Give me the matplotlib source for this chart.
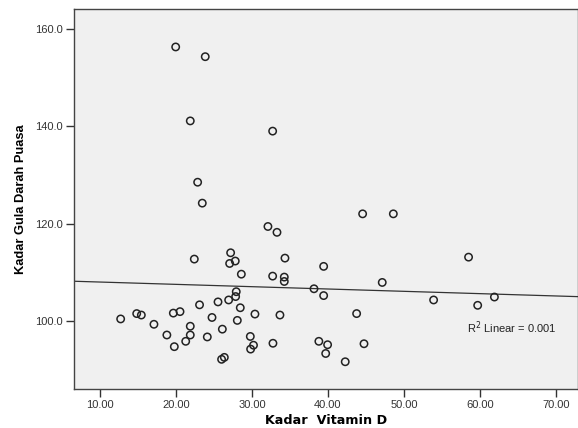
import matplotlib
matplotlib.use("Agg")
import matplotlib.pyplot as plt

# Values (Vitamin D vs fasting blood glucose)
vitamin_d = [
    19.96, 23.85, 21.88, 32.72, 22.85, 23.46,
    32.10, 33.29, 22.41, 27.19, 27.80, 27.06, 34.34, 28.60, 32.72, 34.25,
    34.25, 27.93, 27.85, 26.93, 25.53, 23.10, 28.46, 20.53, 19.65, 14.83,
    15.44, 30.39, 33.68, 24.74, 12.72, 28.07, 17.10, 21.88, 26.10, 18.80,
    21.88, 29.78, 24.12, 21.28, 32.76, 30.20, 19.78, 29.82, 26.36, 26.00,
    44.56, 48.60, 39.43, 58.50, 47.14, 38.16, 39.43, 53.90, 61.90, 59.70,
    43.77, 38.80, 39.95, 44.74, 39.70, 42.27,
]
gula_darah = [
    156.3, 154.3, 141.1, 139.0, 128.5, 124.2,
    119.4, 118.2, 112.7, 114.0, 112.3, 111.8, 112.9, 109.6, 109.2, 109.0,
    108.1, 106.0, 105.0, 104.3, 103.9, 103.3, 102.7, 101.9, 101.6, 101.5,
    101.2, 101.4, 101.2, 100.7, 100.4, 100.1, 99.3, 98.9, 98.3, 97.1,
    97.1, 96.8, 96.7, 95.8, 95.4, 95.0, 94.7, 94.2, 92.5, 92.1,
    122.0, 122.0, 111.2, 113.1, 107.9, 106.6, 105.2, 104.3, 104.9, 103.2,
    101.5, 95.8, 95.1, 95.3, 93.3, 91.6,
]

# Fit line as drawn in the reference
fit_intercept = 108.46
fit_slope = -0.0477

x_ticks = [10, 20, 30, 40, 50, 60, 70]
y_ticks = [100, 120, 140, 160]

fig = plt.figure(figsize=(5.78, 4.28), dpi=100)
ax = fig.add_axes([74 / 578, 1 - 389 / 428, 504 / 578, 380 / 428])
ax.set_facecolor("#f0f0f0")

ax.scatter(vitamin_d, gula_darah, s=28, facecolors="none",
           edgecolors="#222222", linewidths=1.1, zorder=3)
ax.axline((0, fit_intercept), slope=fit_slope, color="#333333", lw=0.9, zorder=2)

ax.set_xlim(6.58, 72.9)
ax.set_ylim(86.0, 164.1)
ax.set_xticks(x_ticks)
ax.set_xticklabels([f"{v:.2f}" for v in x_ticks])
ax.set_yticks(y_ticks)
ax.set_yticklabels([f"{v:.1f}" for v in y_ticks])
ax.tick_params(direction="out", length=6, width=1.0, color="#333333",
               labelsize=8, labelcolor="#333333", pad=2)
for lab in ax.get_xticklabels() + ax.get_yticklabels():
    lab.set_family("Liberation Sans")

for sp in ax.spines.values():
    sp.set_color("#444444")
    sp.set_linewidth(1.0)

ax.set_xlabel("Kadar  Vitamin D", fontsize=9.2, fontweight="bold",
              family="DejaVu Sans", labelpad=3)
ax.set_ylabel("Kadar Gula Darah Puasa", fontsize=9.3, fontweight="bold",
              family="Liberation Sans", labelpad=6)

ax.text(58.3, 98.6, "R$^2$ Linear = 0.001", fontsize=8, family="Liberation Sans",
        color="#222222", va="center", ha="left")

fig.savefig("out.png", dpi=100)
